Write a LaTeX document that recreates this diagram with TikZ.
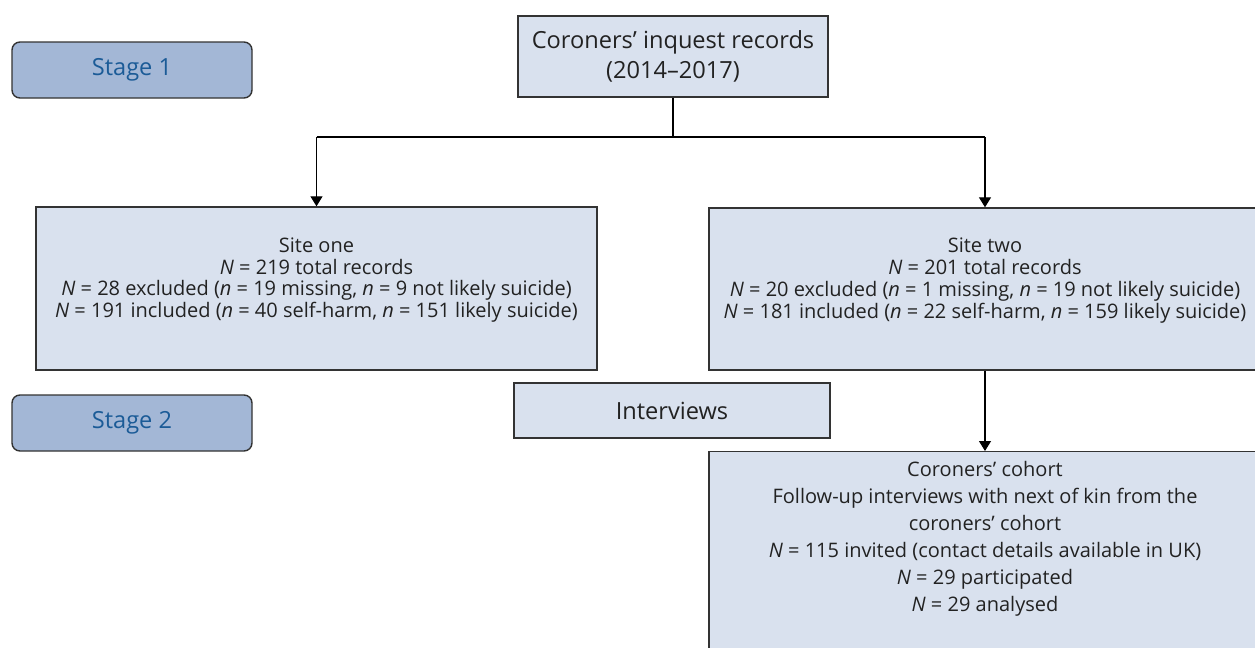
\documentclass[tikz,border=0pt]{standalone}
\usepackage{fontspec}
\setmainfont{Open Sans}
\usetikzlibrary{arrows.meta,positioning}
\definecolor{boxfill}{HTML}{D9E1EE}
\definecolor{stagefill}{HTML}{A3B7D6}
\definecolor{stagetext}{HTML}{1B5B97}
\definecolor{edge}{HTML}{333333}
\definecolor{ink}{HTML}{222222}

\begin{document}
\begin{tikzpicture}[
    x=0.5pt, y=-0.5pt,
    font=\fontsize{10}{10.9}\selectfont,
    box/.style={
        draw=edge,
        fill=boxfill,
        line width=0.7pt,
        align=center,
        text=ink,
        inner sep=0pt
    },
    stagebox/.style={
        draw=edge,
        fill=stagefill,
        rounded corners=4pt,
        line width=0.7pt,
        minimum width=120pt,
        minimum height=28pt,
        text=stagetext,
        font=\fontsize{11.8}{13}\selectfont
    },
    arrow/.style={
        -{Triangle[length=5pt,width=6pt]},
        line width=0.6pt
    }
]
\useasboundingbox (0,0) rectangle (1255,648);

\node[stagebox] (stage1) at (132,70) {Stage 1};
\node[stagebox] (stage2) at (132,423) {Stage 2};

\node[box, minimum width=155pt, minimum height=40.5pt,
      font=\fontsize{11.8}{15}\selectfont] (records) at (673,56.5) {
    Coroners’ inquest records\\
    (2014–2017)
};

\node[box, minimum width=280.5pt, minimum height=81.5pt] (site1) at (316.5,288.5) {
    Site one\\
    \textit{N} = 219 total records\\
    \textit{N} = 28 excluded (\textit{n} = 19 missing, \textit{n} = 9 not likely suicide)\\
    \textit{N} = 191 included (\textit{n} = 40 self-harm, \textit{n} = 151 likely suicide)\\
    \mbox{}
};

\node[box, minimum width=276pt, minimum height=81pt] (site2) at (985,289) {
    Site two\\
    \textit{N} = 201 total records\\
    \textit{N} = 20 excluded (\textit{n} = 1 missing, \textit{n} = 19 not likely suicide)\\
    \textit{N} = 181 included (\textit{n} = 22 self-harm, \textit{n} = 159 likely suicide)\\
    \mbox{}
};

\node[box, minimum width=158pt, minimum height=27.5pt,
      font=\fontsize{11.8}{13}\selectfont] (interviews) at (672,410.5) {Interviews};

\node[box, anchor=north, minimum width=276pt, inner ysep=5pt,
      font=\fontsize{10}{13.5}\selectfont] (cohort) at (985,451) {
    Coroners’ cohort\\
    Follow-up interviews with next of kin from the\\
    coroners’ cohort\\
    \textit{N} = 115 invited (contact details available in UK)\\
    \textit{N} = 29 participated\\
    \textit{N} = 29 analysed\\
    \mbox{}\\
    \mbox{}
};

\coordinate (fork) at (673,137);

\draw[line width=0.6pt] (records.south) -- (fork);
\draw[line width=0.6pt] (site1.north |- fork) -- (site2.north |- fork);
\draw[arrow] (site1.north |- fork) -- (site1.north);
\draw[arrow] (site2.north |- fork) -- (site2.north);
\draw[arrow] (site2.south) -- (cohort.north);

\end{tikzpicture}
\end{document}
